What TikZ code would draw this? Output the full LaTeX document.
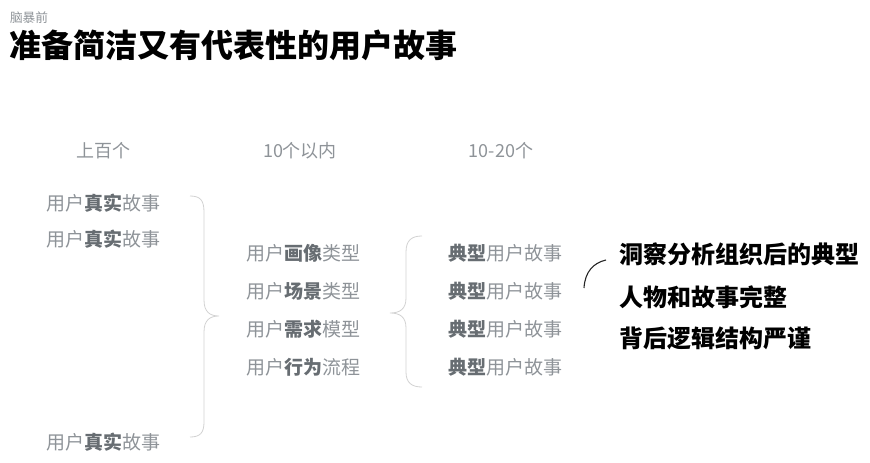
\documentclass[tikz,border=0pt]{standalone}
\usepackage{fontspec}
\setmainfont{Noto Sans CJK SC}
\usepackage{xcolor}
\usetikzlibrary{positioning,calc}
\definecolor{txtgray}{HTML}{8E9398}
\definecolor{boldgray}{HTML}{676D72}
\definecolor{bracegray}{HTML}{D2D2D2}
\newcommand{\emb}[1]{{\bfseries\color{boldgray}#1}}
\begin{document}
\begin{tikzpicture}[x=1pt,y=-1pt,
    every node/.style={inner sep=0pt,outer sep=0pt,anchor=base},
    head/.style={font=\fontsize{18}{18}\selectfont,text=txtgray},
    item/.style={font=\fontsize{19}{19}\selectfont,text=txtgray},
    note/.style={font=\fontsize{24}{24}\selectfont\bfseries,text=black,anchor=base west},
    brace line/.style={draw=bracegray,line width=0.8pt}]
    \useasboundingbox (0,0) rectangle (870,463);
    % title
    \node[anchor=base west,font=\fontsize{12.7}{12.7}\selectfont,text=txtgray] (sub) at (10,22.3) {脑暴前};
    \node[anchor=base west,font=\fontsize{32}{32}\selectfont\bfseries] (title) at (9.5,57.5) {准备简洁又有代表性的用户故事};
    % column heads
    \node[head] (h1) at (103,157.8) {上百个};
    \node[head] (h2) at (300,157.8) {10个以内};
    \node[head] (h3) at (501,157.8) {10-20个};
    % raw stories
    \node[item] (r1) at (103,210.1) {用户\emb{真实}故事};
    \node[item] (r2) at (103,246.1) {用户\emb{真实}故事};
    \node[item] (r3) at (103,449.1) {用户\emb{真实}故事};
    % models
    \node[item] (m1) at (303,260.1) {用户\emb{画像}类型};
    \node[item] (m2) at (303,298.1) {用户\emb{场景}类型};
    \node[item] (m3) at (303,336.1) {用户\emb{需求}模型};
    \node[item] (m4) at (303,374.1) {用户\emb{行为}流程};
    % typical stories
    \node[item] (t1) at (505,260.1) {\emb{典型}用户故事};
    \node[item] (t2) at (505,298.1) {\emb{典型}用户故事};
    \node[item] (t3) at (505,336.1) {\emb{典型}用户故事};
    \node[item] (t4) at (505,374.1) {\emb{典型}用户故事};
    % braces
    \draw[brace line] (190,196) .. controls (200,196) and (204,200) .. (204,212) -- (204,300)
        .. controls (204,312) and (210,316) .. (219,316)
        .. controls (210,316) and (204,320) .. (204,332) -- (204,422)
        .. controls (204,433) and (200,437) .. (190,437);
    \draw[brace line] (422,236) .. controls (412,236) and (406,240) .. (406,252) -- (406,298)
        .. controls (406,309) and (400,313) .. (390,313)
        .. controls (400,313) and (406,317) .. (406,328) -- (406,372)
        .. controls (406,383) and (412,387) .. (422,387);
    % summary
    \draw[line width=1.1pt,black!85] (584,288) .. controls (585,272) and (593,263) .. (606,260);
    \node[note] (n1) at (619,263.5) {洞察分析组织后的典型};
    \node[note] (n2) at (619,306) {人物和故事完整};
    \node[note] (n3) at (619,347.5) {背后逻辑结构严谨};
\end{tikzpicture}
\end{document}
